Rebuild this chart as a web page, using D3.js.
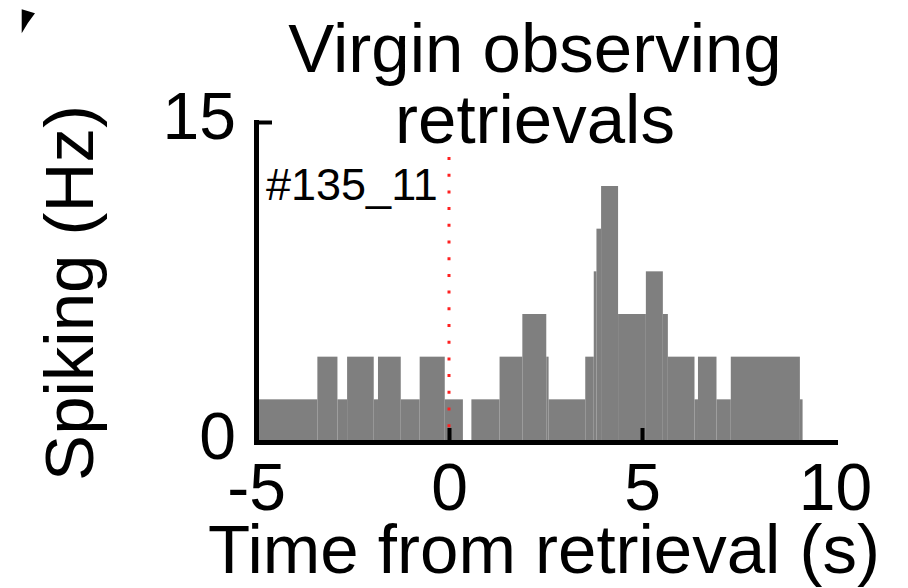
<!DOCTYPE html>
<html>
<head>
<meta charset="utf-8">
<script src="https://cdn.jsdelivr.net/npm/d3@7"></script>
<style>
  html, body { margin: 0; padding: 0; background: #fff; }
  svg { display: block; }
  text { font-family: "Liberation Sans", Arial, Helvetica, sans-serif; fill: #000; }
</style>
</head>
<body>
<svg id="chart" width="908" height="588"></svg>
<script>
// Peri-event spike rate of unit #135_11, aligned to pup retrieval (t = 0)
const binEdges = [-5, -3.41, -2.89, -2.64, -1.95, -1.84, -1.25, -0.76, -0.11, 0.36, 0.58,
                  1.31, 1.90, 2.52, 2.58, 3.53, 3.75, 3.82, 3.94, 4.38, 5.10, 5.54, 5.67,
                  6.36, 6.45, 6.93, 7.30, 9.09, 9.16];
const rates = [2, 4, 2, 4, 2, 4, 2, 4, 2, 0, 2, 4, 6, 4, 2, 4, 8, 10, 12, 6, 8, 6, 4, 2, 4, 2, 4, 2];
const xTicks = [-5, 0, 5, 10];
const yTicks = [0, 15];
const titleLines = ["Virgin observing", "retrievals"];
const unitLabel = "#135_11";
const xLabel = "Time from retrieval (s)";
const yLabel = "Spiking (Hz)";

const svg = d3.select("#chart");

const x = d3.scaleLinear().domain([-5, 10]).range([256, 835]);
const y = d3.scaleLinear().domain([0, 15]).range([442, 122]);

// histogram bars
const bins = rates.map((r, i) => ({ x0: binEdges[i], x1: binEdges[i + 1], r }));
svg.append("g")
  .selectAll("rect")
  .data(bins.filter(d => d.r > 0))
  .join("rect")
  .attr("x", d => x(d.x0))
  .attr("width", d => x(d.x1) - x(d.x0))
  .attr("y", d => y(d.r))
  .attr("height", d => y(0) - y(d.r))
  .attr("fill", "#7f7f7f");

// event marker at t = 0
svg.append("line")
  .attr("x1", x(0)).attr("x2", x(0))
  .attr("y1", 157).attr("y2", y(0))
  .attr("stroke", "#ff2020")
  .attr("stroke-width", 3)
  .attr("stroke-dasharray", "3 13.7");

// x axis, ticks pointing inward
const xAxis = svg.append("g")
  .attr("transform", `translate(0,${y(0)})`)
  .call(d3.axisBottom(x).tickValues(xTicks).tickFormat(d => String(d))
    .tickSizeInner(-14).tickSizeOuter(0).tickPadding(21));
xAxis.select(".domain").attr("stroke", "#000").attr("stroke-width", 5).attr("stroke-linecap", "square");
xAxis.selectAll(".tick line").attr("stroke", "#000").attr("stroke-width", 4)
  .filter(d => d === 10 || d === -5).remove();
xAxis.selectAll(".tick text").attr("font-size", 66).attr("font-family", "Liberation Sans, Arial, sans-serif");

// y axis, ticks pointing inward
const yAxis = svg.append("g")
  .attr("transform", `translate(${x(-5)},0)`)
  .call(d3.axisLeft(y).tickValues(yTicks).tickFormat(d => String(d))
    .tickSizeInner(-16).tickSizeOuter(0).tickPadding(20));
yAxis.select(".domain").attr("stroke", "#000").attr("stroke-width", 5).attr("stroke-linecap", "square");
yAxis.selectAll(".tick line").attr("stroke", "#000").attr("stroke-width", 4)
  .filter(d => d === 0).remove();
yAxis.selectAll(".tick text").attr("font-size", 66).attr("dy", "16px")
  .attr("font-family", "Liberation Sans, Arial, sans-serif");

// title
const title = svg.append("text")
  .attr("x", 535).attr("y", 72)
  .attr("text-anchor", "middle")
  .attr("font-size", 69);
title.selectAll("tspan")
  .data(titleLines)
  .join("tspan")
  .attr("x", 535)
  .attr("dy", (d, i) => i === 0 ? 0 : 71)
  .text(d => d);

// unit id
svg.append("text")
  .attr("x", 266).attr("y", 200)
  .attr("font-size", 45)
  .text(unitLabel);

// axis labels
svg.append("text")
  .attr("x", 544).attr("y", 573)
  .attr("text-anchor", "middle")
  .attr("font-size", 69)
  .text(xLabel);

svg.append("text")
  .attr("transform", "translate(93,293) rotate(-90)")
  .attr("text-anchor", "middle")
  .attr("font-size", 69)
  .text(yLabel);

// corner of the neighbouring panel letter
svg.append("path")
  .attr("d", "M21.7,9.3 L35,13.3 Q28,22 21.7,33.3 Z")
  .attr("fill", "#000");
</script>
</body>
</html>
